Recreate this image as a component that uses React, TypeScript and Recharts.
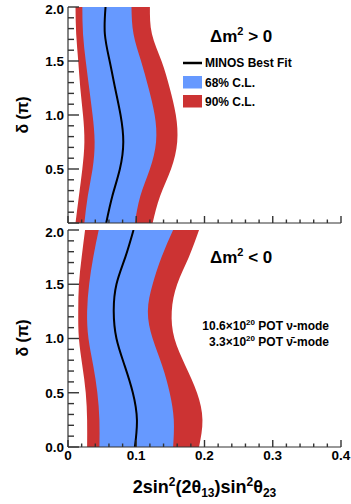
import React from 'react';
import { ComposedChart, Area, Line, XAxis, YAxis } from 'recharts';

const delta = [0, 0.25, 0.5, 0.75, 1.0, 1.25, 1.5, 1.75, 2.0];

const topRedLo = [0.011, 0.016, 0.021, 0.024, 0.022, 0.018, 0.015, 0.012, 0.011];
const topBlueLo = [0.024, 0.029, 0.036, 0.039, 0.036, 0.031, 0.026, 0.022, 0.021];
const topBest = [0.056, 0.065, 0.076, 0.081, 0.077, 0.069, 0.061, 0.054, 0.055];
const topBlueHi = [0.098, 0.106, 0.12, 0.129, 0.127, 0.118, 0.107, 0.096, 0.093];
const topRedHi = [0.124, 0.135, 0.151, 0.16, 0.158, 0.149, 0.137, 0.123, 0.12];

const botRedLo = [0.028, 0.028, 0.026, 0.021, 0.016, 0.015, 0.016, 0.02, 0.025];
const botBlueLo = [0.046, 0.046, 0.043, 0.037, 0.03, 0.028, 0.031, 0.037, 0.045];
const botBest = [0.098, 0.101, 0.095, 0.083, 0.071, 0.067, 0.071, 0.084, 0.096];
const botBlueHi = [0.154, 0.155, 0.149, 0.138, 0.124, 0.117, 0.124, 0.137, 0.154];
const botRedHi = [0.192, 0.197, 0.189, 0.172, 0.156, 0.152, 0.16, 0.177, 0.192];

const yTicks = [0, 0.1, 0.2, 0.3, 0.4, 0.5, 0.6, 0.7, 0.8, 0.9, 1.0, 1.1, 1.2, 1.3, 1.4, 1.5, 1.6, 1.7, 1.8, 1.9, 2.0];
const xTicks = [0, 0.02, 0.04, 0.06, 0.08, 0.1, 0.12, 0.14, 0.16, 0.18, 0.2, 0.22, 0.24, 0.26, 0.28, 0.3, 0.32, 0.34, 0.36, 0.38, 0.4];
const xMajorLabels: Record<string, string> = { '0': '0', '0.1': '0.1', '0.2': '0.2', '0.3': '0.3', '0.4': '0.4' };

const BLUE = '#6699ff';
const RED = '#cc3333';
const FRAME = '#333333';
const TICK = '#333333';
const TICK_W = 1.4;
const FONT = '"Liberation Sans", Arial, Helvetica, sans-serif';

function buildRows(redLo: number[], blueLo: number[], best: number[], blueHi: number[], redHi: number[]) {
  return delta.map((d, i) => ({
    d,
    red: [redLo[i], redHi[i]],
    blue: [blueLo[i], blueHi[i]],
    best: best[i],
  }));
}

const topRows = buildRows(topRedLo, topBlueLo, topBest, topBlueHi, topRedHi);
const botRows = buildRows(botRedLo, botBlueLo, botBest, botBlueHi, botRedHi);

const isYMajor = (v: number) => Math.abs(v * 2 - Math.round(v * 2)) < 1e-6;
const isXMajor = (v: number) => Math.abs(v * 10 - Math.round(v * 10)) < 1e-6;

function LeftTick(props: any) {
  const { x, y, payload, showZero } = props;
  const v = payload.value as number;
  const major = isYMajor(v);
  const len = major ? 11 : 6;
  const showLabel = major && (showZero || v > 1e-6);
  const shift = v > 1.99 ? 2.5 : 0;
  return (
    <g>
      <line x1={x} x2={x + len} y1={y} y2={y} stroke={TICK} strokeWidth={TICK_W} />
      {showLabel && (
        <text x={x - 4} y={y + shift} dy="0.36em" textAnchor="end" fontFamily={FONT} fontWeight="bold" fontSize={13.5} fill="#000">
          {v.toFixed(1)}
        </text>
      )}
    </g>
  );
}

function RightTick(props: any) {
  const { x, y, payload } = props;
  const v = payload.value as number;
  const len = isYMajor(v) ? 11 : 5.5;
  return <line x1={x - len} x2={x} y1={y} y2={y} stroke={TICK} strokeWidth={TICK_W} />;
}

function BottomTick(props: any) {
  const { x, y, payload, showLabels } = props;
  const v = payload.value as number;
  const major = isXMajor(v);
  const len = major ? 7 : 3.5;
  const key = String(Math.round(v * 10) / 10);
  return (
    <g>
      <line x1={x} x2={x} y1={y} y2={y - len} stroke={TICK} strokeWidth={TICK_W} />
      {showLabels && major && (
        <text x={x} y={y + 13} textAnchor="middle" fontFamily={FONT} fontWeight="bold" fontSize={13.5} fill="#000">
          {xMajorLabels[key]}
        </text>
      )}
    </g>
  );
}

function TopTick(props: any) {
  const { x, y, payload } = props;
  const v = payload.value as number;
  const len = isXMajor(v) ? 7 : 3.5;
  return <line x1={x} x2={x} y1={y} y2={y + len} stroke={TICK} strokeWidth={TICK_W} />;
}

function Panel(props: {
  rows: any[];
  height: number;
  marginTop: number;
  xAxisHeight: number;
  showXLabels: boolean;
  showZero: boolean;
  children?: React.ReactNode;
}) {
  const { rows, height, marginTop, xAxisHeight, showXLabels, showZero, children } = props;
  return (
    <ComposedChart
      width={351}
      height={height}
      data={rows}
      layout="vertical"
      margin={{ top: marginTop, right: 10, bottom: 0, left: 0 }}
    >
      <Area dataKey="red" type="natural" fill={RED} fillOpacity={1} stroke="none" isAnimationActive={false} />
      <Area dataKey="blue" type="natural" fill={BLUE} fillOpacity={1} stroke="none" isAnimationActive={false} />
      <Line dataKey="best" type="natural" stroke="#000" strokeWidth={2} dot={false} isAnimationActive={false} />
      <XAxis
        type="number"
        domain={[0, 0.4]}
        allowDataOverflow
        ticks={xTicks}
        interval={0}
        height={xAxisHeight}
        tickSize={0}
        tickMargin={0}
        tickLine={false}
        axisLine={{ stroke: FRAME, strokeWidth: 1.2 }}
        tick={(p: any) => <BottomTick {...p} showLabels={showXLabels} />}
      />
      <XAxis
        xAxisId="t"
        orientation="top"
        type="number"
        domain={[0, 0.4]}
        allowDataOverflow
        ticks={xTicks}
        interval={0}
        height={0}
        tickSize={0}
        tickMargin={0}
        tickLine={false}
        axisLine={{ stroke: FRAME, strokeWidth: 1.2 }}
        tick={(p: any) => <TopTick {...p} />}
      />
      <YAxis
        type="number"
        dataKey="d"
        domain={[0, 2]}
        allowDataOverflow
        reversed
        ticks={yTicks}
        interval={0}
        width={68}
        tickSize={0}
        tickMargin={0}
        tickLine={false}
        axisLine={{ stroke: FRAME, strokeWidth: 1.2 }}
        tick={(p: any) => <LeftTick {...p} showZero={showZero} />}
      />
      <YAxis
        yAxisId="r"
        orientation="right"
        type="number"
        dataKey="d"
        domain={[0, 2]}
        allowDataOverflow
        reversed
        ticks={yTicks}
        interval={0}
        width={0}
        tickSize={0}
        tickMargin={0}
        tickLine={false}
        axisLine={{ stroke: FRAME, strokeWidth: 1.2 }}
        tick={(p: any) => <RightTick {...p} />}
      />
      {children}
    </ComposedChart>
  );
}

const txt = { fontFamily: FONT, fontWeight: 'bold' as const, fill: '#000' };

export default function App() {
  return (
    <div style={{ position: 'absolute', left: 0, top: 0, width: 351, height: 504, background: '#fff' }}>
      <div style={{ position: 'absolute', left: 0, top: 0 }}>
        <Panel rows={topRows} height={226} marginTop={7} xAxisHeight={3} showXLabels={false} showZero={false}>
          <text x={210} y={42} fontSize={17} {...txt}>
            Δm<tspan dy={-7} fontSize={11}>2</tspan>
            <tspan dy={7}> &gt; 0</tspan>
          </text>
          <line x1={183} x2={202} y1={63} y2={63} stroke="#000" strokeWidth={2.5} />
          <text x={205} y={67} fontSize={12} {...txt}>MINOS Best Fit</text>
          <rect x={183} y={76} width={19} height={12.5} fill={BLUE} />
          <text x={205} y={86.5} fontSize={12} {...txt}>68% C.L.</text>
          <rect x={183} y={95} width={19} height={12.5} fill={RED} />
          <text x={205} y={105.5} fontSize={12} {...txt}>90% C.L.</text>
          <text x={22} y={115} fontSize={16} textAnchor="middle" dominantBaseline="central" transform="rotate(-90, 22, 115)" {...txt}>
            δ (π)
          </text>
        </Panel>
      </div>
      <div style={{ position: 'absolute', left: 0, top: 222 }}>
        <Panel rows={botRows} height={282} marginTop={8} xAxisHeight={57} showXLabels={true} showZero={true}>
          <text x={210} y={41} fontSize={17} {...txt}>
            Δm<tspan dy={-7} fontSize={11}>2</tspan>
            <tspan dy={7}> &lt; 0</tspan>
          </text>
          <text x={329} y={108} fontSize={12} textAnchor="end" {...txt}>
            10.6×10<tspan dy={-5} fontSize={8}>20</tspan>
            <tspan dy={5}> POT ν-mode</tspan>
          </text>
          <text x={329} y={124} fontSize={12} textAnchor="end" {...txt}>
            3.3×10<tspan dy={-5} fontSize={8}>20</tspan>
            <tspan dy={5}> POT ν̄-mode</tspan>
          </text>
          <text x={22} y={116} fontSize={16} textAnchor="middle" dominantBaseline="central" transform="rotate(-90, 22, 116)" {...txt}>
            δ (π)
          </text>
          <text x={204.5} y={271} fontSize={18} textAnchor="middle" {...txt}>
            2sin<tspan dy={-7} fontSize={12}>2</tspan>
            <tspan dy={7}>(2θ</tspan>
            <tspan dy={4} fontSize={12}>13</tspan>
            <tspan dy={-4}>)sin</tspan>
            <tspan dy={-7} fontSize={12}>2</tspan>
            <tspan dy={7}>θ</tspan>
            <tspan dy={4} fontSize={12}>23</tspan>
          </text>
        </Panel>
      </div>
    </div>
  );
}
